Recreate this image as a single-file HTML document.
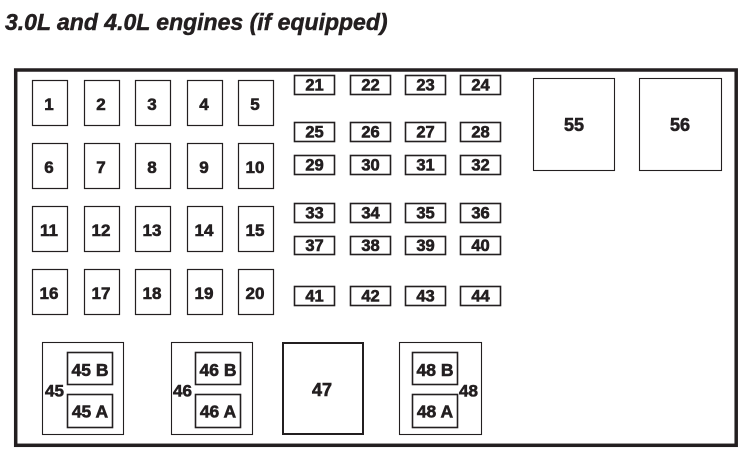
<!DOCTYPE html>
<html>
<head>
<meta charset="utf-8">
<style>
html,body{margin:0;padding:0;background:#fff;}
svg{display:block;}
</style>
</head>
<body>
<svg width="753" height="457" viewBox="0 0 753 457" xmlns="http://www.w3.org/2000/svg">
<text x="5" y="30" font-size="23" font-style="italic" font-weight="bold" font-family="Liberation Sans, Arial, sans-serif" fill="#231f20" stroke="#231f20" stroke-width="0.5">3.0L and 4.0L engines (if equipped)</text>
<rect x="15.7" y="70" width="720.5" height="375.3" fill="none" stroke="#231f20" stroke-width="3.5"/>

<g fill="none" stroke="#231f20" stroke-width="1.2">
<rect x="32.5" y="80.5" width="35" height="45"/><rect x="84.5" y="80.5" width="35" height="45"/><rect x="135.5" y="80.5" width="35" height="45"/><rect x="187.5" y="80.5" width="35" height="45"/><rect x="238.5" y="80.5" width="35" height="45"/>
<rect x="32.5" y="143.5" width="35" height="45"/><rect x="84.5" y="143.5" width="35" height="45"/><rect x="135.5" y="143.5" width="35" height="45"/><rect x="187.5" y="143.5" width="35" height="45"/><rect x="238.5" y="143.5" width="35" height="45"/>
<rect x="32.5" y="206.5" width="35" height="45"/><rect x="84.5" y="206.5" width="35" height="45"/><rect x="135.5" y="206.5" width="35" height="45"/><rect x="187.5" y="206.5" width="35" height="45"/><rect x="238.5" y="206.5" width="35" height="45"/>
<rect x="32.5" y="269.5" width="35" height="45"/><rect x="84.5" y="269.5" width="35" height="45"/><rect x="135.5" y="269.5" width="35" height="45"/><rect x="187.5" y="269.5" width="35" height="45"/><rect x="238.5" y="269.5" width="35" height="45"/>
</g>
<g fill="none" stroke="#231f20" stroke-width="1.6">
<rect x="294.5" y="75.5" width="40" height="19"/><rect x="350.5" y="75.5" width="40" height="19"/><rect x="405.5" y="75.5" width="40" height="19"/><rect x="460.5" y="75.5" width="40" height="19"/>
<rect x="294.5" y="122.5" width="40" height="19"/><rect x="350.5" y="122.5" width="40" height="19"/><rect x="405.5" y="122.5" width="40" height="19"/><rect x="460.5" y="122.5" width="40" height="19"/>
<rect x="294.5" y="155.5" width="40" height="19"/><rect x="350.5" y="155.5" width="40" height="19"/><rect x="405.5" y="155.5" width="40" height="19"/><rect x="460.5" y="155.5" width="40" height="19"/>
<rect x="294.5" y="203.5" width="40" height="19"/><rect x="350.5" y="203.5" width="40" height="19"/><rect x="405.5" y="203.5" width="40" height="19"/><rect x="460.5" y="203.5" width="40" height="19"/>
<rect x="294.5" y="236.5" width="40" height="18"/><rect x="350.5" y="236.5" width="40" height="18"/><rect x="405.5" y="236.5" width="40" height="18"/><rect x="460.5" y="236.5" width="40" height="18"/>
<rect x="294.5" y="286.5" width="40" height="19"/><rect x="350.5" y="286.5" width="40" height="19"/><rect x="405.5" y="286.5" width="40" height="19"/><rect x="460.5" y="286.5" width="40" height="19"/>
</g>
<g fill="none" stroke="#231f20" stroke-width="1.1">
<rect x="533.5" y="78.5" width="81" height="92"/>
<rect x="639.5" y="78.5" width="82" height="92"/>
<rect x="42.5" y="342.5" width="81" height="92"/>
<rect x="171.5" y="342.5" width="81" height="92"/>
<rect x="399.5" y="342.5" width="82" height="92"/>
</g>
<rect x="283" y="343" width="80" height="91" fill="none" stroke="#231f20" stroke-width="2"/>
<g fill="none" stroke="#231f20" stroke-width="1.6">
<rect x="67.5" y="352.5" width="45" height="32"/><rect x="67.5" y="394.5" width="45" height="33"/>
<rect x="195.5" y="352.5" width="45" height="32"/><rect x="195.5" y="394.5" width="45" height="33"/>
<rect x="412.5" y="352.5" width="45" height="32"/><rect x="412.5" y="394.5" width="45" height="33"/>
</g>

<g font-family="Liberation Sans, Arial, sans-serif" font-weight="bold" fill="#231f20" stroke="#231f20" stroke-width="0.6" text-anchor="middle">
<g font-size="17">
<text x="49" y="110">1</text><text x="101" y="110">2</text><text x="152" y="110">3</text><text x="204" y="110">4</text><text x="255" y="110">5</text>
<text x="49" y="173">6</text><text x="101" y="173">7</text><text x="152" y="173">8</text><text x="204" y="173">9</text><text x="255" y="173">10</text>
<text x="49" y="236">11</text><text x="101" y="236">12</text><text x="152" y="236">13</text><text x="204" y="236">14</text><text x="255" y="236">15</text>
<text x="49" y="299">16</text><text x="101" y="299">17</text><text x="152" y="299">18</text><text x="204" y="299">19</text><text x="255" y="299">20</text>
</g>
<g font-size="16.5">
<text x="314.5" y="90.5">21</text><text x="370.5" y="90.5">22</text><text x="425.5" y="90.5">23</text><text x="480.5" y="90.5">24</text>
<text x="314.5" y="137.5">25</text><text x="370.5" y="137.5">26</text><text x="425.5" y="137.5">27</text><text x="480.5" y="137.5">28</text>
<text x="314.5" y="170.5">29</text><text x="370.5" y="170.5">30</text><text x="425.5" y="170.5">31</text><text x="480.5" y="170.5">32</text>
<text x="314.5" y="218.5">33</text><text x="370.5" y="218.5">34</text><text x="425.5" y="218.5">35</text><text x="480.5" y="218.5">36</text>
<text x="314.5" y="251">37</text><text x="370.5" y="251">38</text><text x="425.5" y="251">39</text><text x="480.5" y="251">40</text>
<text x="314.5" y="301.5">41</text><text x="370.5" y="301.5">42</text><text x="425.5" y="301.5">43</text><text x="480.5" y="301.5">44</text>
</g>
<g font-size="18">
<text x="574" y="131">55</text><text x="680" y="131">56</text>
<text x="322" y="396">47</text>
</g>
<g font-size="17.5">
<text x="90" y="376">45 B</text><text x="90" y="417.5">45 A</text>
<text x="218" y="376">46 B</text><text x="218" y="417.5">46 A</text>
<text x="435" y="376">48 B</text><text x="435" y="417.5">48 A</text>
</g>
<g font-size="17">
<text x="54.5" y="396.5">45</text>
<text x="182.5" y="396.5">46</text>
<text x="468.5" y="396.5">48</text>
</g>
</g>
</svg>
</body>
</html>
